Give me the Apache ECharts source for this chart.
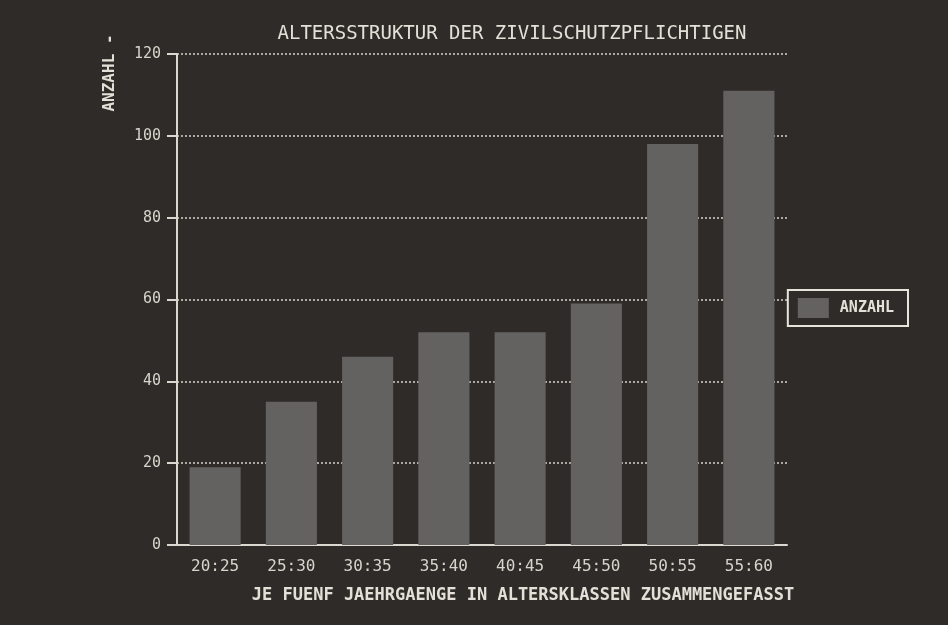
<!DOCTYPE html>
<html>
<head>
<meta charset="utf-8">
<script src="https://cdn.jsdelivr.net/npm/echarts@6/dist/echarts.min.js"></script>
<style>
html,body{margin:0;padding:0;background:#2f2b28;}
#c{width:948px;height:625px;}
</style>
</head>
<body>
<div id="c"></div>
<script>
const categories = ['20:25','25:30','30:35','35:40','40:45','45:50','50:55','55:60'];
const anzahl = [19, 35, 46, 52, 52, 59, 98, 111];
const yTicks = [0, 20, 40, 60, 80, 100, 120];
const seriesName = 'ANZAHL';
const titleText = 'ALTERSSTRUKTUR DER ZIVILSCHUTZPFLICHTIGEN';
const xName = 'JE FUENF JAEHRGAENGE IN ALTERSKLASSEN ZUSAMMENGEFASST';
const yName = 'ANZAHL -';

const FONT = '"DejaVu Sans Mono", "Liberation Mono", monospace';
const TXT = '#e4e0d8';
const chart = echarts.init(document.getElementById('c'));
chart.setOption({
  backgroundColor: '#2f2b28',
  animation: false,
  title: {
    text: titleText, left: 507, top: 20, textAlign: 'center',
    textStyle: {color: TXT, fontFamily: FONT, fontSize: 19, fontWeight: 'normal'}
  },
  legend: {
    data: [{name: seriesName, icon: 'rect'}], right: 40, top: 290, orient: 'vertical',
    borderColor: '#e8e4dc', borderWidth: 2, borderRadius: 0,
    padding: [8, 14, 8, 10], itemWidth: 31, itemHeight: 20, itemGap: 5,
    textStyle: {color: TXT, fontFamily: FONT, fontSize: 15, fontWeight: 'bold', padding: [0,0,0,6]}
  },
  grid: {left: 177, right: 161, top: 54, bottom: 80, outerBoundsMode: 'none', containLabel: false},
  graphic: [{
    type: 'text', x: 110, y: 73, rotation: Math.PI / 2,
    style: {text: yName, fill: TXT, font: 'bold 16px "DejaVu Sans Mono", monospace', align: 'center', verticalAlign: 'middle'}
  }],
  xAxis: {
    type: 'category', data: categories, boundaryGap: true,
    name: xName, nameLocation: 'middle', nameGap: 42,
    nameTextStyle: {color: TXT, fontFamily: FONT, fontSize: 17, fontWeight: 'bold', padding: [0,0,0,82]},
    axisLine: {lineStyle: {color: '#dcd8d0', width: 2}},
    axisTick: {alignWithLabel: true, length: 9, lineStyle: {color: '#dcd8d0', width: 2}},
    axisLabel: {color: '#d8d4cc', fontFamily: FONT, fontSize: 16, margin: 14}
  },
  yAxis: {
    type: 'value', min: yTicks[0], max: yTicks[yTicks.length-1], interval: 20,
    axisLine: {show: true, lineStyle: {color: '#dcd8d0', width: 2}},
    axisTick: {show: true, length: 10, lineStyle: {color: '#dcd8d0', width: 2}},
    axisLabel: {color: '#d8d4cc', fontFamily: FONT, fontSize: 15, margin: 16},
    splitLine: {show: true, lineStyle: {color: '#d8d4cc', type: [2, 2], width: 1.5}}
  },
  series: [{
    name: seriesName, type: 'bar', data: anzahl, barWidth: '67%',
    itemStyle: {color: '#646260'}
  }]
});
</script>
</body>
</html>
